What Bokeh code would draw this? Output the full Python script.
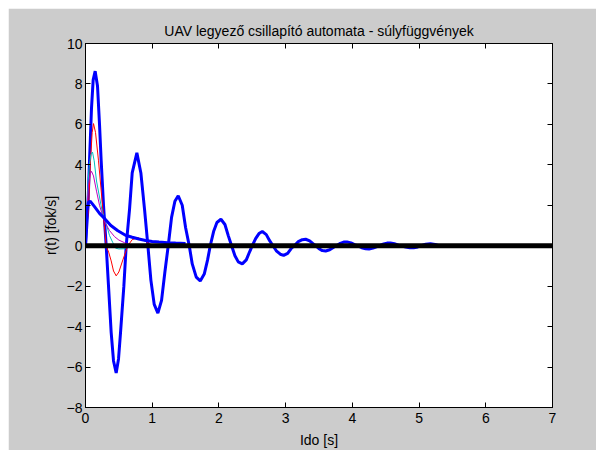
from bokeh.plotting import figure
from bokeh.models import Range1d, FixedTicker, LinearAxis, CustomJSTickFormatter
from bokeh.embed import file_html
from bokeh.resources import INLINE

TITLE = "UAV legyező csillapító automata - súlyfüggvények"
XLABEL = "Ido [s]"
YLABEL = "r(t) [fok/s]"
X_TICKS = [0, 1, 2, 3, 4, 5, 6, 7]
Y_TICKS = [-8, -6, -4, -2, 0, 2, 4, 6, 8, 10]

# strongly oscillating weight function (thick blue)
t_osc = [0, 0.035, 0.06, 0.09, 0.115, 0.145, 0.18, 0.21, 0.235, 0.27, 0.31, 0.345, 0.385,
         0.42, 0.46, 0.495, 0.525, 0.575, 0.61, 0.66, 0.70, 0.77, 0.83, 0.885, 0.935, 0.98,
         1.03, 1.085, 1.14, 1.19, 1.24, 1.29, 1.34, 1.39, 1.45, 1.50, 1.555, 1.60, 1.66,
         1.72, 1.78, 1.83, 1.87, 1.92, 1.97, 2.03, 2.09, 2.14, 2.19, 2.24, 2.29, 2.35, 2.41,
         2.46, 2.50, 2.55, 2.60, 2.65, 2.71, 2.76, 2.81, 2.86, 2.92, 2.97, 3.03, 3.08, 3.13,
         3.19, 3.25, 3.30, 3.36, 3.41, 3.45, 3.50, 3.55, 3.60, 3.66, 3.72, 3.76, 3.82, 3.87,
         3.92, 3.98, 4.04, 4.08, 4.14, 4.20, 4.25, 4.31, 4.37, 4.41, 4.47, 4.52, 4.57, 4.63,
         4.69, 4.73, 4.80, 4.86, 4.92, 4.98, 5.03, 5.10, 5.17, 5.24, 5.30, 5.40]
r_osc = [0, 1.8, 4.2, 6.8, 8.2, 8.63, 7.9, 6.0, 4.2, 2.0, 0, -2.0, -4.3,
         -5.7, -6.29, -5.6, -4.3, -2.0, 0, 1.8, 3.6, 4.59, 3.6, 1.8, 0, -1.7,
         -2.9, -3.33, -2.7, -1.3, 0, 1.4, 2.2, 2.47, 2.0, 0.9, 0, -0.9, -1.55,
         -1.74, -1.4, -0.7, 0, 0.7, 1.15, 1.31, 1.05, 0.5, 0, -0.5, -0.8, -0.9, -0.7,
         -0.3, 0, 0.35, 0.6, 0.70, 0.55, 0.25, 0, -0.25, -0.42, -0.48, -0.38, -0.15, 0,
         0.2, 0.3, 0.32, 0.24, 0.1, 0, -0.15, -0.24, -0.26, -0.2, -0.07, 0, 0.12, 0.18,
         0.19, 0.14, 0.04, 0, -0.1, -0.15, -0.16, -0.12, -0.04, 0, 0.09, 0.13, 0.14, 0.1,
         0.03, 0, -0.07, -0.1, -0.1, -0.06, 0, 0.07, 0.1, 0.06, 0, 0]

# red weight function
t_red = [0, 0.02, 0.045, 0.075, 0.1, 0.12, 0.15, 0.195, 0.26, 0.31, 0.35, 0.385, 0.42,
         0.46, 0.50, 0.56, 0.635, 0.70, 0.785, 0.86, 0.935, 1.0, 1.1]
r_red = [0, 1.0, 1.8, 4.2, 5.6, 6.04, 5.6, 4.2, 1.8, 0, -0.35, -0.75, -1.25,
         -1.49, -1.3, -0.7, 0, 0.3, 0.4, 0.3, 0.15, 0.03, 0]

# cyan weight function
t_cyan = [0, 0.02, 0.04, 0.055, 0.08, 0.105, 0.13, 0.165, 0.25, 0.31, 0.36, 0.41, 0.45,
          0.5, 0.58, 0.62, 0.66]
r_cyan = [0, 1.8, 3.2, 3.9, 4.5, 4.63, 4.2, 3.2, 1.7, 1.1, 0.5, 0.15, -0.12,
          -0.16, -0.15, -0.08, 0]

# magenta weight function
t_mag = [0, 0.02, 0.045, 0.07, 0.09, 0.12, 0.165, 0.21, 0.26, 0.3, 0.36, 0.435, 0.5,
         0.585, 0.68, 0.75]
r_mag = [0, 1.8, 3.0, 3.55, 3.68, 3.45, 2.7, 2.0, 1.45, 1.1, 0.75, 0.45, 0.28,
         0.15, 0.05, 0]

# slowly decaying weight function (thick blue)
t_dec = [0, 0.02, 0.045, 0.07, 0.1, 0.135, 0.21, 0.285, 0.38, 0.485, 0.6, 0.7, 0.8,
         0.9, 1.0, 1.1, 1.23, 1.35, 1.5]
r_dec = [0, 1.7, 2.15, 2.2, 2.08, 1.93, 1.6, 1.35, 1.0, 0.74, 0.52, 0.42, 0.33,
         0.26, 0.21, 0.18, 0.15, 0.13, 0.11]

# zero reference line
t_zero = [0, 7]
r_zero = [0, 0]

FONT = "Liberation Sans"
FS = "14px"

p = figure(width=588, height=442, output_backend="svg", toolbar_location=None,
           x_range=Range1d(0, 7), y_range=Range1d(-8, 10),
           min_border_left=77, min_border_right=44, min_border_top=35, min_border_bottom=42)
p.margin = (8, 0, 0, 8)

p.background_fill_color = "white"
p.border_fill_color = "#cccccc"
p.outline_line_color = "black"
p.outline_line_width = 1
p.xgrid.visible = False
p.ygrid.visible = False

p.title.text = TITLE
p.title.align = "center"
p.title.text_font = FONT
p.title.text_font_size = FS
p.title.text_font_style = "normal"
p.title.text_color = "black"
p.title.standoff = 10

for ax in p.xaxis:
    ax.ticker = FixedTicker(ticks=X_TICKS)
for ax in p.yaxis:
    ax.ticker = FixedTicker(ticks=Y_TICKS)

p.xaxis.axis_label = XLABEL
p.yaxis.axis_label = YLABEL

for ax in list(p.xaxis) + list(p.yaxis):
    ax.major_tick_in = 5
    ax.major_tick_out = 0
    ax.minor_tick_in = 0
    ax.minor_tick_out = 0
    ax.axis_line_color = "black"
    ax.major_tick_line_color = "black"
    ax.major_label_text_font = FONT
    ax.major_label_text_font_size = FS
    ax.major_label_text_color = "black"
    ax.axis_label_text_font = FONT
    ax.axis_label_text_font_size = FS
    ax.axis_label_text_font_style = "normal"
    ax.axis_label_text_color = "black"

p.xaxis.major_label_standoff = 5
p.xaxis.axis_label_standoff = 6
p.yaxis.major_label_standoff = 3
p.yaxis.axis_label_standoff = 5

blank = CustomJSTickFormatter(code="return '';")
top_ax = LinearAxis(ticker=FixedTicker(ticks=X_TICKS), formatter=blank,
                    major_tick_in=5, major_tick_out=0, minor_tick_in=0, minor_tick_out=0,
                    major_label_standoff=0, axis_line_color="black")
right_ax = LinearAxis(ticker=FixedTicker(ticks=Y_TICKS), formatter=blank,
                      major_tick_in=5, major_tick_out=0, minor_tick_in=0, minor_tick_out=0,
                      major_label_standoff=0, axis_line_color="black")
p.add_layout(top_ax, "above")
p.add_layout(right_ax, "right")

p.line(t_osc, r_osc, line_color="#0000ff", line_width=3)
p.line(t_red, r_red, line_color="#ff0000", line_width=1)
p.line(t_cyan, r_cyan, line_color="#00bfbf", line_width=1)
p.line(t_mag, r_mag, line_color="#bf00bf", line_width=1)
p.line(t_dec, r_dec, line_color="#0000ff", line_width=3)
p.line(t_zero, r_zero, line_color="black", line_width=5)

open("out.html", "w").write(file_html(p, INLINE))
